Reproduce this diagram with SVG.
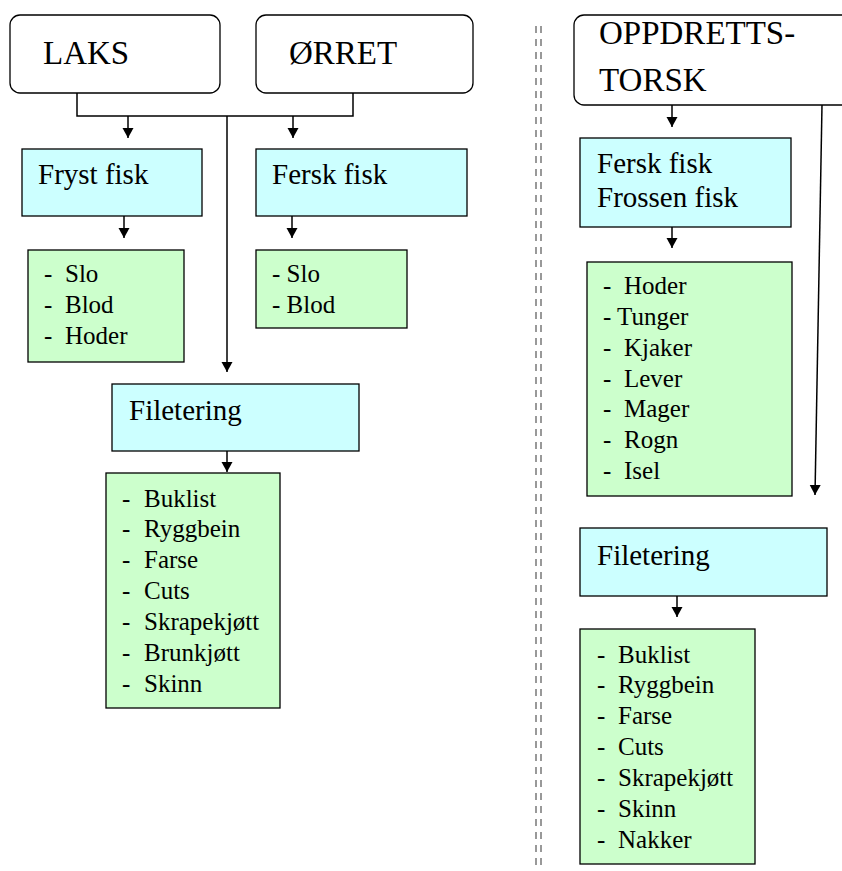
<svg xmlns="http://www.w3.org/2000/svg" width="842" height="871" viewBox="0 0 842 871">
<style>
text{font-family:"Liberation Serif","Times New Roman",serif;fill:#000}
.big{font-size:33px}
.mid{font-size:29px}
.sm{font-size:25px}
.top{fill:#fff;stroke:#000;stroke-width:1.3}
.cy{fill:#ccffff;stroke:#000;stroke-width:1.3}
.gr{fill:#ccffcc;stroke:#000;stroke-width:1.3}
.ln{fill:none;stroke:#000;stroke-width:1.5}
.div{stroke:#999;stroke-width:2;stroke-dasharray:7 6}
</style>
<defs>
<marker id="ah" markerUnits="userSpaceOnUse" markerWidth="11" markerHeight="12" refX="10" refY="5.5" orient="auto">
<path d="M0,0 L10,5.5 L0,11 z" fill="#000"/>
</marker>
</defs>
<rect width="842" height="871" fill="#fff"/>
<g id="divider">
<line class="div" x1="536" y1="26" x2="536" y2="868"/>
<line class="div" x1="541" y1="26" x2="541" y2="868"/>
</g>
<g id="connectors">
<path class="ln" d="M77,93 V116 H353 V93"/>
<line class="ln" x1="128" y1="116" x2="128" y2="138" marker-end="url(#ah)"/>
<line class="ln" x1="293" y1="116" x2="293" y2="138" marker-end="url(#ah)"/>
<line class="ln" x1="227" y1="116" x2="227" y2="372" marker-end="url(#ah)"/>
<line class="ln" x1="124" y1="216" x2="124" y2="238" marker-end="url(#ah)"/>
<line class="ln" x1="292" y1="216" x2="292" y2="238" marker-end="url(#ah)"/>
<line class="ln" x1="227" y1="451" x2="227" y2="472" marker-end="url(#ah)"/>
<line class="ln" x1="672" y1="105" x2="672" y2="127" marker-end="url(#ah)"/>
<line class="ln" x1="672" y1="227" x2="672" y2="248" marker-end="url(#ah)"/>
<line class="ln" x1="822" y1="105" x2="815" y2="495" marker-end="url(#ah)"/>
<line class="ln" x1="677" y1="596" x2="677" y2="617" marker-end="url(#ah)"/>
</g>
<g id="laks">
<rect class="top" x="10" y="15" width="210" height="78" rx="10"/>
<text class="big" x="43" y="64">LAKS</text>
</g>
<g id="orret">
<rect class="top" x="256" y="15" width="217" height="78" rx="10"/>
<text class="big" x="289" y="64">ØRRET</text>
</g>
<g id="fryst">
<rect class="cy" x="22" y="149" width="180" height="67"/>
<text class="mid" x="38" y="184">Fryst fisk</text>
</g>
<g id="fersk">
<rect class="cy" x="256" y="149" width="211" height="67"/>
<text class="mid" x="272" y="184">Fersk fisk</text>
</g>
<g id="fryst-list">
<rect class="gr" x="28" y="250" width="156" height="112"/>
<text class="sm"><tspan x="44" y="282">-</tspan><tspan x="65" y="282">Slo</tspan><tspan x="44" y="313">-</tspan><tspan x="65" y="313">Blod</tspan><tspan x="44" y="344">-</tspan><tspan x="65" y="344">Hoder</tspan></text>
</g>
<g id="fersk-list">
<rect class="gr" x="256" y="250" width="151" height="78"/>
<text class="sm"><tspan x="272" y="282">- Slo</tspan><tspan x="272" y="313">- Blod</tspan></text>
</g>
<g id="filetering-left">
<rect class="cy" x="112" y="384" width="247" height="67"/>
<text class="mid" x="129" y="420">Filetering</text>
</g>
<g id="filet-list-left">
<rect class="gr" x="106" y="473" width="174" height="235"/>
<text class="sm">
<tspan x="122" y="507">-</tspan><tspan x="144" y="507">Buklist</tspan>
<tspan x="122" y="537">-</tspan><tspan x="144" y="537">Ryggbein</tspan>
<tspan x="122" y="568">-</tspan><tspan x="144" y="568">Farse</tspan>
<tspan x="122" y="599">-</tspan><tspan x="144" y="599">Cuts</tspan>
<tspan x="122" y="630">-</tspan><tspan x="144" y="630">Skrapekjøtt</tspan>
<tspan x="122" y="661">-</tspan><tspan x="144" y="661">Brunkjøtt</tspan>
<tspan x="122" y="692">-</tspan><tspan x="144" y="692">Skinn</tspan>
</text>
</g>
<g id="oppdrett">
<rect class="top" x="574" y="15" width="300" height="90" rx="10"/>
<text class="big"><tspan x="599" y="44">OPPDRETTS-</tspan><tspan x="599" y="91">TORSK</tspan></text>
</g>
<g id="fersk-frossen">
<rect class="cy" x="580" y="138" width="211" height="89"/>
<text class="mid"><tspan x="597" y="173">Fersk fisk</tspan><tspan x="597" y="207">Frossen fisk</tspan></text>
</g>
<g id="torsk-list">
<rect class="gr" x="587" y="262" width="205" height="234"/>
<text class="sm">
<tspan x="603" y="294">-</tspan><tspan x="624" y="294">Hoder</tspan>
<tspan x="603" y="325">- Tunger</tspan>
<tspan x="603" y="356">-</tspan><tspan x="624" y="356">Kjaker</tspan>
<tspan x="603" y="387">-</tspan><tspan x="624" y="387">Lever</tspan>
<tspan x="603" y="417">-</tspan><tspan x="624" y="417">Mager</tspan>
<tspan x="603" y="448">-</tspan><tspan x="624" y="448">Rogn</tspan>
<tspan x="603" y="479">-</tspan><tspan x="624" y="479">Isel</tspan>
</text>
</g>
<g id="filetering-right">
<rect class="cy" x="580" y="528" width="247" height="68"/>
<text class="mid" x="597" y="565">Filetering</text>
</g>
<g id="filet-list-right">
<rect class="gr" x="580" y="629" width="175" height="235"/>
<text class="sm">
<tspan x="597" y="663">-</tspan><tspan x="618" y="663">Buklist</tspan>
<tspan x="597" y="693">-</tspan><tspan x="618" y="693">Ryggbein</tspan>
<tspan x="597" y="724">-</tspan><tspan x="618" y="724">Farse</tspan>
<tspan x="597" y="755">-</tspan><tspan x="618" y="755">Cuts</tspan>
<tspan x="597" y="786">-</tspan><tspan x="618" y="786">Skrapekjøtt</tspan>
<tspan x="597" y="817">-</tspan><tspan x="618" y="817">Skinn</tspan>
<tspan x="597" y="848">-</tspan><tspan x="618" y="848">Nakker</tspan>
</text>
</g>
</svg>
